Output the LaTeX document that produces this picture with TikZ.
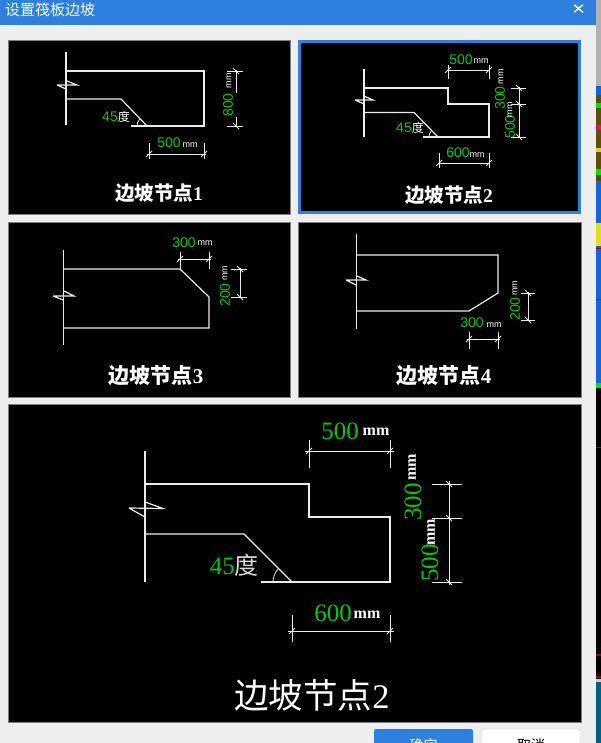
\documentclass[tikz,border=0pt]{standalone}
\usepackage{fontspec}
\setmainfont{Liberation Serif}
\newfontfamily\cjk{Noto Sans CJK SC}
\newfontfamily\numfont{Liberation Sans}
\definecolor{barblue}{HTML}{2E80E0}
\definecolor{dialoggray}{HTML}{EEEEEE}
\definecolor{dimgreen}{RGB}{0,205,0}
\definecolor{stripblue}{HTML}{1763DC}
\definecolor{stripolive}{HTML}{5A5200}
\definecolor{stripteal}{HTML}{05607F}
\tikzset{
  panelbox/.style = {fill = black, draw = gray, line width = .6pt},
  slab/.style = {draw = white!92!black, line width = 1.2pt},
  dimline/.style = {draw = white!92!black, line width = .8pt},
  smallnum/.style = {text = dimgreen, inner sep = 0pt, font = \numfont\fontsize{14}{14}\selectfont},
  smallunit/.style = {text = white, inner sep = 0pt, font = \numfont\fontsize{9}{9}\selectfont},
  bignum/.style = {text = dimgreen, inner sep = 0pt, font = \fontsize{25}{25}\selectfont},
  bigunit/.style = {text = white, inner sep = 0pt, font = \bfseries\fontsize{16}{16}\selectfont},
  smalltitle/.style = {text = white, inner sep = 0pt, font = \bfseries\fontsize{19.5}{20}\selectfont},
  widetitle/.style = {text = white, inner sep = 0pt, font = \bfseries\fontsize{21}{21}\selectfont},
  bigtitle/.style = {text = white, inner sep = 0pt, font = \fontsize{34.5}{35}\selectfont}
}
\begin{document}
\begin{tikzpicture}[x = 1pt, y = -1pt]
\useasboundingbox (0,0) rectangle (601,743);
\clip (0,0) rectangle (601,743);
% screen behind the dialog
\fill[gray!60] (596,0) rectangle (601,86);
\fill[stripblue] (596,86) rectangle (601,383);
\fill[stripolive] (596,95) rectangle (601,181);
\fill[green!90!black] (596,103) rectangle (601,108);
\fill[magenta] (596,125) rectangle (601,130);
\fill[yellow!85!black] (596,148) rectangle (601,152);
\fill[green!90!black] (596,169) rectangle (601,175);
\fill[yellow!90!black] (596,223) rectangle (601,246);
\fill[red!70!black] (596,247.5) rectangle (601,248.5);
\fill[red!70!black] (596,298.5) rectangle (601,299.5);
\fill[green!90!black] (596,383) rectangle (601,388);
\fill[black] (596,388) rectangle (601,680);
\fill[red!60!black] (596,446.5) rectangle (601,448);
\fill[red!60!black] (596,654) rectangle (601,656);
\fill[red!60!black] (596,676) rectangle (601,678);
\fill[gray!40] (596,679) rectangle (601,682);
\fill[stripteal] (596,682) rectangle (601,743);
% dialog
\fill[dialoggray] (0,0) rectangle (596,743);
\fill[barblue] (0,0) rectangle (596,25);
\node (dlgTitle) [text = white, anchor = west, inner sep = 0pt, font = \cjk\fontsize{15}{15}\selectfont] at (5,10) {设置筏板边坡};
\draw[white, line width = 1.4pt] (574,4.5) -- (583,12.5) (583,4.5) -- (574,12.5);
% panels
\fill[panelbox] (8,40) rectangle (290,214);
\fill[black, draw = barblue, line width = 3pt] (299.5,41.5) rectangle (579.5,212.5);
\fill[panelbox] (8,222) rectangle (290,397);
\fill[panelbox] (298,222) rectangle (581,397);
\fill[panelbox] (8,404) rectangle (581,722);
% buttons
\fill[barblue, rounded corners = 2pt] (374,729) rectangle (473,750);
\fill[white, draw = gray!40, rounded corners = 2pt] (482,729) rectangle (580,750);
\node (okBtn) [text = white, inner sep = 0pt, font = \cjk\fontsize{14}{14}\selectfont] at (423.5,745) {确定};
\node (noBtn) [text = black, inner sep = 0pt, font = \cjk\fontsize{14}{14}\selectfont] at (531,745) {取消};
% node 1
\draw[slab] (66,52) -- (66,125);
\draw[slab] (66,71) -- (204,71) -- (204,126) -- (131,126);
\draw[slab] (66,99) -- (121,99) -- (147,126);
\draw[slab] (57,85) -- (77,85) -- (67,81) (57,85) -- (66,89);
\draw[dimline] (137,126) arc[start angle = 180, end angle = 222, radius = 10];
\draw[dimline] (149,143) -- (149,159) (204,143) -- (204,159) (147,154) -- (206,154);
\draw[dimline] (227,71) -- (243,71) (227,126) -- (243,126) (236,70) -- (236,93) (236,117) -- (236,127);
\node (numA) [smallnum] at (169,143) {500};
\node (unitA) [smallunit] at (190,145) {mm};
\node (numB) [smallnum, rotate = 90] at (228,105) {800};
\node (unitB) [smallunit, rotate = 90] at (229,81) {mm};
\node (angA) [smallnum, anchor = east] at (130,117) {45{\cjk\fontsize{12}{12}\selectfont\color{white}度}};
\node (titleA) [smalltitle] at (159,193) {{\cjk 边坡节点}1};
% node 2
\draw[slab] (364,69) -- (364,137);
\draw[slab] (364,88) -- (448,88) -- (448,104) -- (489,104) -- (489,137) -- (423,137);
\draw[slab] (364,112.5) -- (414,112.5) -- (438,137);
\draw[slab] (355,100) -- (373,100) -- (364,96) (355,100) -- (364,104);
\draw[dimline] (429,137) arc[start angle = 180, end angle = 222, radius = 9];
\draw[dimline] (448,65) -- (448,79) (489,65) -- (489,79) (447,70) -- (490,70);
\draw[dimline] (439,153) -- (439,168) (489,153) -- (489,168) (438,163) -- (490,163);
\draw[dimline] (511,88) -- (526,88) (511,104) -- (526,104) (511,137) -- (526,137) (519,87) -- (519,138);
\node (numC) [smallnum] at (461,60) {500};
\node (unitC) [smallunit] at (481,61) {mm};
\node (numD) [smallnum, rotate = 90] at (500,98) {300};
\node (unitD) [smallunit, rotate = 90] at (501,77) {mm};
\node (numE) [smallnum, rotate = 90] at (510,127) {500};
\node (unitE) [smallunit, rotate = 90] at (510,110) {mm};
\node (numF) [smallnum] at (458,153) {600};
\node (unitF) [smallunit] at (477,155) {mm};
\node (angB) [smallnum, anchor = east] at (424,128) {45{\cjk\fontsize{12}{12}\selectfont\color{white}度}};
\node (titleB) [smalltitle] at (449,195) {{\cjk 边坡节点}2};
% node 3
\draw[slab] (63.5,250) -- (63.5,345);
\draw[slab] (63.5,269) -- (180,269) -- (209,297) -- (209,328) -- (63.5,328);
\draw[slab] (53,296) -- (74,296) -- (64,291) (53,296) -- (63,300);
\draw[dimline] (180,252) -- (180,269) (209,252) -- (209,269) (178,259) -- (211,259);
\draw[dimline] (231,269) -- (247,269) (231,297) -- (247,297) (240,268) -- (240,298);
\node (numG) [smallnum] at (184,243) {300};
\node (unitG) [smallunit] at (205,243) {mm};
\node (numH) [smallnum, rotate = 90] at (225,295) {200};
\node (unitH) [smallunit, rotate = 90] at (225,273) {mm};
\node (titleC) [widetitle] at (156,376) {{\cjk 边坡节点}3};
% node 4
\draw[slab] (356.5,234) -- (356.5,329);
\draw[slab] (356.5,255) -- (498,255) -- (498,293) -- (469,311) -- (356.5,311);
\draw[slab] (346,280) -- (366,280) -- (357,276) (346,280) -- (356,285);
\draw[dimline] (521,293) -- (535,293) (521,320) -- (535,320) (528,292) -- (528,321);
\draw[dimline] (469,332) -- (469,349) (498,332) -- (498,349) (467,339) -- (500,339);
\node (numI) [smallnum, rotate = 90] at (515,309) {200};
\node (unitI) [smallunit, rotate = 90] at (515,288) {mm};
\node (numJ) [smallnum] at (472,323) {300};
\node (unitJ) [smallunit] at (494,325) {mm};
\node (titleD) [widetitle] at (444,376) {{\cjk 边坡节点}4};
% large node 2
\draw[slab] (145,451) -- (145,582);
\draw[slab] (145,484) -- (309,484) -- (309,517) -- (390,517) -- (390,582) -- (261,582);
\draw[slab] (145,534) -- (244,534) -- (292,582);
\draw[slab] (129,508) -- (163,508.5) -- (145,502) (129,508) -- (145,517);
\draw[dimline] (273,582) arc[start angle = 180, end angle = 222, radius = 19];
\draw[dimline] (309,440) -- (309,468) (390,440) -- (390,468) (305,451) -- (394,451);
\draw[dimline] (292,615) -- (292,642) (390,615) -- (390,642) (288,631) -- (394,631);
\draw[dimline] (432,484) -- (462,484) (432,518) -- (462,518) (432,582) -- (462,582) (449,481) -- (449,585);
\foreach \x/\y in {309/451, 390/451, 292/631, 390/631, 149/154, 204/154, 448/70, 489/70, 439/163, 489/163, 180/259, 209/259, 469/339, 498/339}
  \draw[dimline] (\x-3,\y+3) -- (\x+3,\y-3);
\foreach \x/\y in {449/484, 449/518, 449/582, 236/71, 236/126, 519/88, 519/104, 519/137, 240/269, 240/297, 528/293, 528/320}
  \draw[dimline] (\x-3,\y-3) -- (\x+3,\y+3);
\node (numK) [bignum] at (340,431) {500};
\node (unitK) [bigunit] at (376,432) {mm};
\node (numL) [bignum, rotate = 90] at (413,502) {300};
\node (unitL) [bigunit, rotate = 90] at (412,467) {mm};
\node (numM) [bignum, rotate = 90] at (430,563) {500};
\node (unitM) [bigunit, rotate = 90] at (431,532) {mm};
\node (numN) [bignum] at (333,613) {600};
\node (unitN) [bigunit] at (367,615) {mm};
\node (angC) [bignum, anchor = east] at (259,565) {45{\cjk\fontsize{24}{24}\selectfont\color{white!85!black}度}};
\node (titleE) [bigtitle] at (312,695) {{\cjk 边坡节点}2};
\end{tikzpicture}
\end{document}
